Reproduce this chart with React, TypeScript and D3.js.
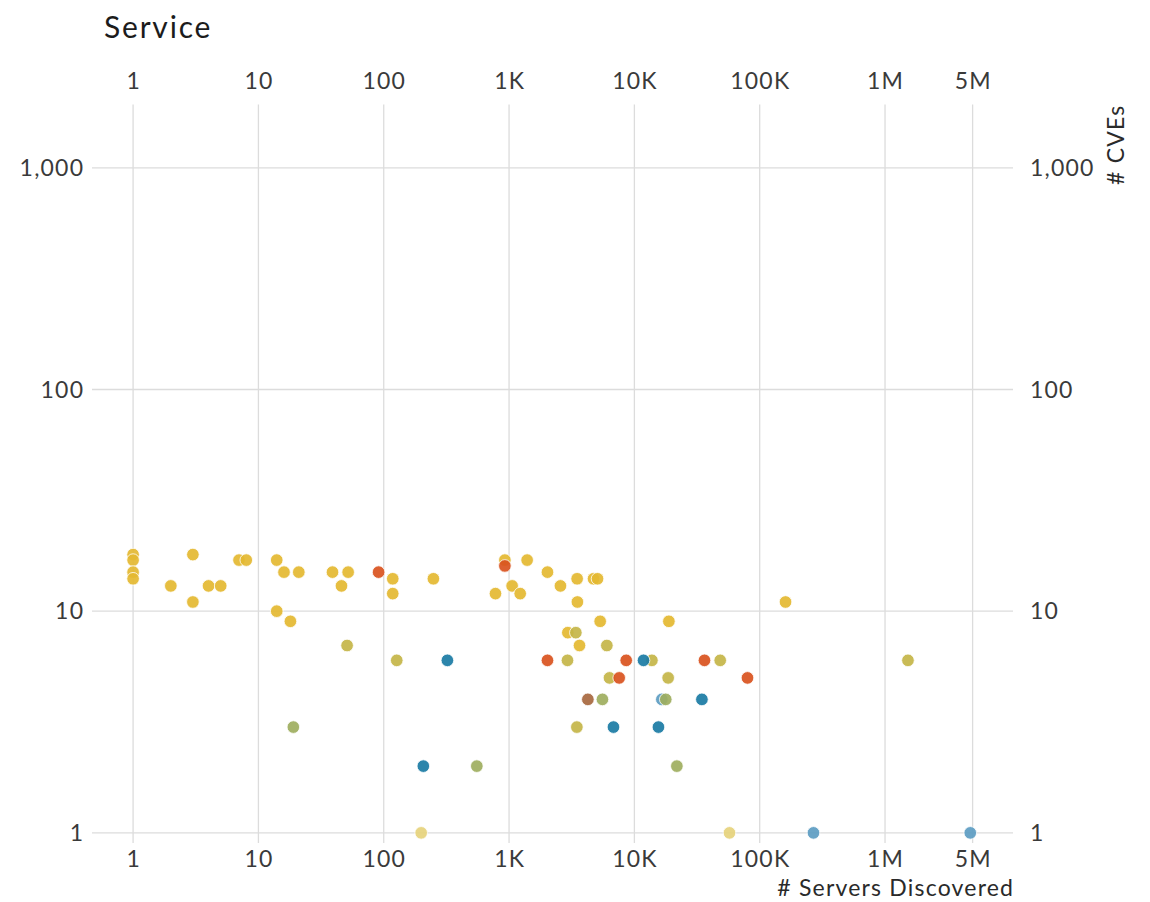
import React from "react";
import * as d3 from "d3";

// Servers discovered (x) vs. number of CVEs (y), one entry per service version
type Pt = { servers: number; cves: number; group: string };

const gold: [number, number][] = [
  [1, 18], [1, 17], [1, 15], [1, 14], [2, 13], [3, 18], [3, 11], [4, 13], [5, 13],
  [7, 17], [8, 17], [14, 17], [16, 15], [21, 15], [14, 10], [18, 9], [39, 15],
  [52, 15], [46, 13], [118, 14], [118, 12], [249, 14], [926, 17], [1394, 17],
  [779, 12], [1058, 13], [1227, 12], [2025, 15], [2571, 13], [3493, 14],
  [4720, 14], [5080, 14], [3510, 11], [5333, 9], [18850, 9], [2945, 8],
  [3648, 7], [160700, 11],
];
const olive: [number, number][] = [
  [51, 7], [127, 6], [3412, 8], [6030, 7], [2925, 6], [13800, 6], [48400, 6],
  [6330, 5], [18600, 5], [3476, 3], [1524000, 6],
];
const vermilion: [number, number][] = [
  [91, 15], [926, 16], [2025, 6], [8605, 6], [36250, 6], [7565, 5], [79900, 5],
];
const teal: [number, number][] = [
  [322, 6], [11830, 6], [34580, 4], [6810, 3], [15560, 3], [207, 2],
];
const sky: [number, number][] = [[16560, 4], [268600, 1], [4790000, 1]];
const sage: [number, number][] = [
  [19, 3], [553, 2], [21830, 2], [5560, 4], [17800, 4],
];
const umber: [number, number][] = [[4254, 4]];
const sand: [number, number][] = [[199, 1], [57400, 1]];

const groupColors: Record<string, string> = {
  gold: "#E4B831",
  olive: "#C4B548",
  vermilion: "#D9531E",
  teal: "#1A7BA4",
  sky: "#5C9CC2",
  sage: "#9EAE5E",
  umber: "#A7683F",
  sand: "#E6D27C",
};

const xTickValues = [1, 10, 100, 1e3, 1e4, 1e5, 1e6, 5e6];
const xTickLabels = ["1", "10", "100", "1K", "10K", "100K", "1M", "5M"];
const yTickValues = [1, 10, 100, 1000];

const series: [string, [number, number][]][] = [
  ["gold", gold],
  ["olive", olive],
  ["vermilion", vermilion],
  ["teal", teal],
  ["sky", sky],
  ["sage", sage],
  ["umber", umber],
  ["sand", sand],
];

const points: Pt[] = series.flatMap(([group, arr]) =>
  arr.map(([servers, cves]) => ({ servers, cves, group }))
);

const W = 1150;
const H = 902;
const left = 92;
const right = 1013;
const top = 104.5;
const bottom = 843;

const FONT = "Lato, 'Open Sans', sans-serif";
const LS = 1.2;

export default function App() {
  const x = d3.scaleLog().domain([0.47, 1.05e7]).range([left, right]);
  const y = d3.scaleLog().domain([0.9, 1930]).range([bottom, top]);
  const yFmt = d3.format(",");
  const grid = "#DCDCDC";
  const tickColor = "#3a3a3a";

  return (
    <svg
      width={W}
      height={H}
      style={{ position: "absolute", left: 0, top: 0, background: "#fff" }}
      fontFamily={FONT}
    >
      <text x={104} y={38} fontSize={30} letterSpacing={1.8} fill="#1c1c1c">
        Service
      </text>

      {/* vertical grid + top / bottom tick labels */}
      {xTickValues.map((v, i) => (
        <g key={"x" + v}>
          <line x1={x(v)} x2={x(v)} y1={top} y2={bottom} stroke={grid} strokeWidth={1.3} />
          <text x={x(v) + LS / 2} y={89} textAnchor="middle" fontSize={23} letterSpacing={LS} fill={tickColor}>
            {xTickLabels[i]}
          </text>
          <text x={x(v) + LS / 2} y={867} textAnchor="middle" fontSize={23} letterSpacing={LS} fill={tickColor}>
            {xTickLabels[i]}
          </text>
        </g>
      ))}

      {/* horizontal grid + left / right tick labels */}
      {yTickValues.map((v) => (
        <g key={"y" + v}>
          <line x1={left} x2={right} y1={y(v)} y2={y(v)} stroke={grid} strokeWidth={1.3} />
          <text x={83 + LS} y={y(v)} dy="0.35em" textAnchor="end" fontSize={23} letterSpacing={LS} fill={tickColor}>
            {yFmt(v)}
          </text>
          <text x={1030} y={y(v)} dy="0.35em" textAnchor="start" fontSize={23} letterSpacing={LS} fill={tickColor}>
            {yFmt(v)}
          </text>
        </g>
      ))}

      {/* axis titles */}
      <text x={right + LS} y={896} textAnchor="end" fontSize={23} letterSpacing={LS} fill="#2a2a2a">
        # Servers Discovered
      </text>
      <text
        transform={`translate(1124, ${top}) rotate(-90)`}
        textAnchor="end"
        fontSize={23}
        letterSpacing={LS}
        fill="#2a2a2a"
      >
        # CVEs
      </text>

      {/* points */}
      {points.map((p, i) => (
        <circle
          key={i}
          cx={x(p.servers)}
          cy={y(p.cves)}
          r={6.3}
          fill={groupColors[p.group]}
          fillOpacity={0.92}
          stroke="#fff"
          strokeWidth={0.8}
        />
      ))}
    </svg>
  );
}
